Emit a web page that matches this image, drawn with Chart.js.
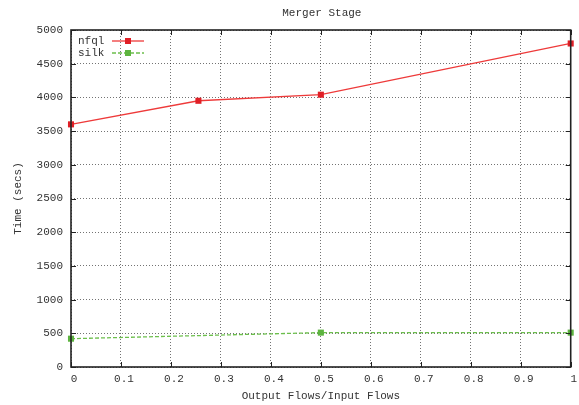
<!DOCTYPE html>
<html>
<head>
<meta charset="utf-8">
<script src="https://cdn.jsdelivr.net/npm/chart.js@4"></script>
<style>
  html, body { margin: 0; padding: 0; background: #fff; }
  #wrap { width: 579px; height: 405px; }
</style>
</head>
<body>
<div id="wrap"><canvas id="merger"></canvas></div>
<script>
// ─── data ───
const ratios = [0, 0.255, 0.5, 1];
const nfqlTimes = [3600, 3950, 4040, 4800];
const silkTimes = [420, null, 510, 510];
const seriesNames = ['nfql', 'silk'];
const chartTitle = 'Merger Stage';

const MONO = "'Liberation Mono', 'DejaVu Sans Mono', monospace";
const TEXT = '#333';

function pts(ys) {
  return ratios.map((x, i) => ({ x: x, y: ys[i] }));
}

// gnuplot-style frame: solid border, inward ticks on all four sides
const framePlugin = {
  id: 'frame',
  afterDraw(chart) {
    const { ctx, chartArea: a, scales } = chart;
    ctx.save();
    ctx.strokeStyle = '#222';
    ctx.lineWidth = 1;
    scales.x.ticks.forEach(t => {
      const px = Math.round(scales.x.getPixelForValue(t.value)) + 0.5;
      ctx.beginPath();
      ctx.moveTo(px, a.bottom); ctx.lineTo(px, a.bottom - 5);
      ctx.moveTo(px, a.top); ctx.lineTo(px, a.top + 5);
      ctx.stroke();
    });
    scales.y.ticks.forEach(t => {
      const py = Math.round(scales.y.getPixelForValue(t.value)) + 0.5;
      ctx.beginPath();
      ctx.moveTo(a.left, py); ctx.lineTo(a.left + 5, py);
      ctx.moveTo(a.right, py); ctx.lineTo(a.right - 5, py);
      ctx.stroke();
    });
    ctx.lineWidth = 1.6;
    ctx.strokeRect(a.left, a.top, a.right - a.left, a.bottom - a.top);

    ctx.font = '11px ' + MONO;
    ctx.textBaseline = 'middle';

    // title centred over the plot area
    ctx.fillStyle = TEXT;
    ctx.textAlign = 'center';
    ctx.fillText(chartTitle, (a.left + a.right) / 2 + 1, 13);
    ctx.textAlign = 'left';

    // legend inside top-left
    chart.data.datasets.forEach((ds, i) => {
      const y = a.top + 11 + i * 12;
      ctx.fillStyle = TEXT;
      ctx.fillText(ds.label, a.left + 7, y);
      ctx.strokeStyle = ds.borderColor;
      ctx.lineWidth = 1.3;
      ctx.setLineDash(ds.borderDash || []);
      ctx.beginPath();
      ctx.moveTo(a.left + 41, y); ctx.lineTo(a.left + 73, y);
      ctx.stroke();
      ctx.setLineDash([]);
      ctx.fillStyle = ds.pointBackgroundColor;
      ctx.fillRect(a.left + 54, y - 3, 6, 6);
    });
    ctx.restore();
  }
};

new Chart(document.getElementById('merger'), {
  type: 'line',
  data: {
    datasets: [
      {
        label: seriesNames[0],
        data: pts(nfqlTimes),
        borderColor: '#ee3a3a',
        borderWidth: 1.3,
        pointStyle: 'rect',
        pointRadius: 4.3,
        pointBorderWidth: 0,
        pointBackgroundColor: '#e01f26',
        pointBorderColor: '#e01f26',
        spanGaps: true,
        tension: 0,
      },
      {
        label: seriesNames[1],
        data: pts(silkTimes),
        borderColor: '#6cbf4c',
        borderWidth: 1.3,
        borderDash: [4, 2],
        pointStyle: 'rect',
        pointRadius: 4.3,
        pointBorderWidth: 0,
        pointBackgroundColor: '#5db43f',
        pointBorderColor: '#5db43f',
        spanGaps: true,
        tension: 0,
      }
    ]
  },
  options: {
    responsive: true,
    maintainAspectRatio: false,
    animation: false,
    clip: false,
    layout: { padding: { top: 30, right: 7, bottom: 0, left: 0 } },
    plugins: {
      legend: { display: false },
      tooltip: { enabled: false },
      title: { display: false }
    },
    scales: {
      x: {
        type: 'linear',
        min: 0, max: 1,
        afterFit: s => { s.height = 38; },
        ticks: {
          stepSize: 0.1,
          color: TEXT,
          padding: 5,
          labelOffset: 3,
          maxRotation: 0,
          font: { family: MONO, size: 11 },
          callback: v => String(Math.round(v * 10) / 10)
        },
        grid: { color: 'rgba(0,0,0,0.55)', drawTicks: false, lineWidth: 1 },
        border: { display: false, dash: [1, 2] },
        title: {
          display: true,
          text: 'Output Flows/Input Flows',
          color: TEXT,
          font: { family: MONO, size: 11 },
          padding: { top: 0, bottom: 2.4 }
        }
      },
      y: {
        min: 0, max: 5000,
        afterFit: s => { s.width = 71; },
        ticks: {
          stepSize: 500,
          color: TEXT,
          padding: 8,
          font: { family: MONO, size: 11 },
          callback: v => String(v)
        },
        grid: { color: 'rgba(0,0,0,0.55)', drawTicks: false, lineWidth: 1 },
        border: { display: false, dash: [1, 2] },
        title: {
          display: true,
          text: 'Time (secs)',
          color: TEXT,
          font: { family: MONO, size: 11 },
          padding: { top: 11.4, bottom: 0 }
        }
      }
    }
  },
  plugins: [framePlugin]
});
</script>
</body>
</html>
